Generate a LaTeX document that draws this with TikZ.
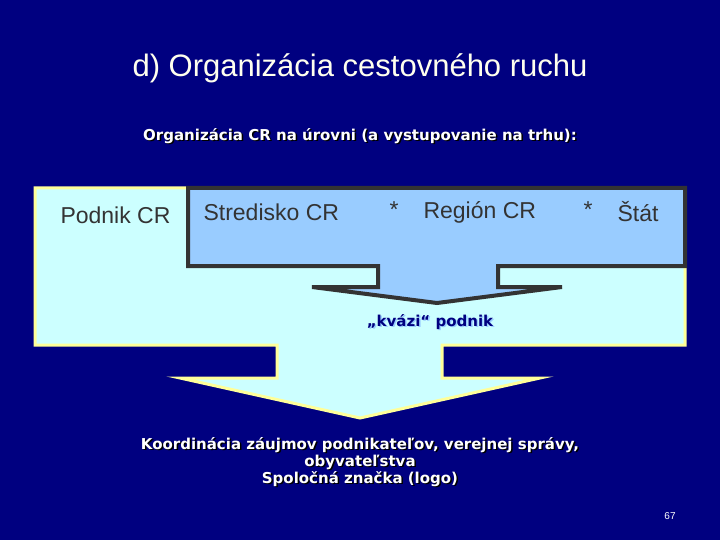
\documentclass[tikz,border=0pt]{standalone}
\usepackage{fontspec}
\setmainfont{Liberation Sans}
\newfontfamily\tah{DejaVu Sans}
\definecolor{navy}{HTML}{000080}
\definecolor{lcyan}{HTML}{CCFFFF}
\definecolor{lblue}{HTML}{99CCFF}
\definecolor{lyel}{HTML}{FFFF99}
\definecolor{dgray}{HTML}{333333}
\definecolor{ttl}{HTML}{FFFFEE}
\begin{document}
\begin{tikzpicture}[x=1pt,y=-1pt,
  shadowtxt/.style={font=\tah\bfseries\fontsize{15}{17}\selectfont,align=center,inner sep=0}]
\fill[navy] (0,0) rectangle (720,540);
\useasboundingbox (0,0) rectangle (720,540);
\node[text=ttl,font=\fontsize{31}{36}\selectfont] (title) at (360,68) {d) Organizácia cestovného ruchu};
\node[shadowtxt,text=black] at (361.5,137.5) {Organizácia CR na úrovni (a vystupovanie na trhu):};
\node[shadowtxt,text=white] (sub) at (360,136) {Organizácia CR na úrovni (a vystupovanie na trhu):};
% big arrow
\draw[lyel,line width=3pt,fill=lcyan,line join=miter]
 (35,188) -- (685,188) -- (685,345) -- (442,345) -- (442,378) -- (540,378) -- (360,418)
 -- (180,378) -- (277,378) -- (277,345) -- (35,345) -- cycle;
% inner arrow
\draw[dgray,line width=4pt,fill=lblue,line join=miter]
 (188,188) -- (685,188) -- (685,266) -- (498,266) -- (498,287) -- (562,287) -- (437,303)
 -- (312,287) -- (378,287) -- (378,266) -- (188,266) -- cycle;
\node[font=\fontsize{23}{26}\selectfont,text=dgray,anchor=west] (p) at (57,215) {Podnik CR};
\node[font=\fontsize{23}{26}\selectfont,text=dgray,anchor=west] (s) at (200,212) {Stredisko CR};
\node[font=\fontsize{23}{26}\selectfont,text=dgray] (a1) at (394,210) {*};
\node[font=\fontsize{23}{26}\selectfont,text=dgray,anchor=west] (r) at (420,212) {Región CR};
\node[font=\fontsize{23}{26}\selectfont,text=dgray] (a2) at (588,210) {*};
\node[font=\fontsize{23}{26}\selectfont,text=dgray,anchor=west] (st) at (614,212) {Štát};
\node[shadowtxt,text=lblue] at (431.5,323.5) {„kvázi“ podnik};
\node[shadowtxt,text=navy] (k) at (430,322) {„kvázi“ podnik};
\node[shadowtxt,text=black] at (361.5,463.5) {Koordinácia záujmov podnikateľov, verejnej správy,\\obyvateľstva\\Spoločná značka (logo)};
\node[shadowtxt,text=white] (bt) at (360,462) {Koordinácia záujmov podnikateľov, verejnej správy,\\obyvateľstva\\Spoločná značka (logo)};
\node[text=white,font=\fontsize{10}{12}\selectfont] (pg) at (670,516) {67};
\end{tikzpicture}
\end{document}
